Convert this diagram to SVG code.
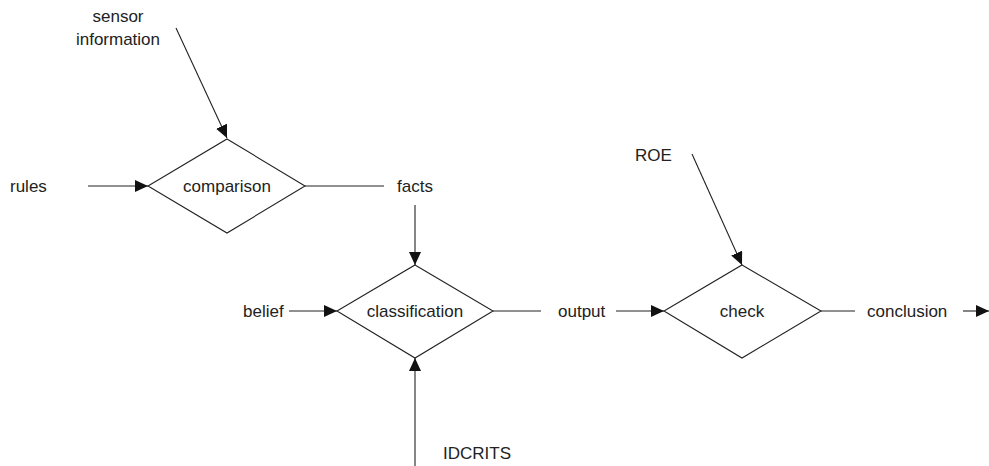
<svg xmlns="http://www.w3.org/2000/svg" width="989" height="466" viewBox="0 0 989 466">
  <style>
    .node polygon { fill: #fff; stroke: #222; stroke-width: 1.1; }
    text { font-family: "Liberation Sans", Arial, sans-serif; font-size: 17px; fill: #222; }
    .mid { text-anchor: middle; }
    #connectors line { stroke: #222; stroke-width: 1.1; fill: none; }
  </style>
  <defs>
    <marker id="arrow" markerUnits="userSpaceOnUse" markerWidth="14" markerHeight="12" refX="13" refY="6" orient="auto">
      <path d="M0,0 L13,6 L0,12 Z" fill="#111"/>
    </marker>
  </defs>

  <rect width="989" height="466" fill="#fff"/>

  <g id="connectors">
    <line x1="176" y1="28" x2="227" y2="138" marker-end="url(#arrow)"/>
    <line x1="88" y1="186" x2="148" y2="186" marker-end="url(#arrow)"/>
    <line x1="305" y1="186" x2="384" y2="186"/>
    <line x1="415" y1="205" x2="415" y2="265" marker-end="url(#arrow)"/>
    <line x1="289" y1="311" x2="337" y2="311" marker-end="url(#arrow)"/>
    <line x1="415" y1="466" x2="415" y2="358" marker-end="url(#arrow)"/>
    <line x1="493" y1="311" x2="541" y2="311"/>
    <line x1="616" y1="311" x2="664" y2="311" marker-end="url(#arrow)"/>
    <line x1="692" y1="154" x2="742" y2="265" marker-end="url(#arrow)"/>
    <line x1="821" y1="311" x2="855" y2="311"/>
    <line x1="963" y1="311" x2="989" y2="311" marker-end="url(#arrow)"/>
  </g>

  <g id="comparison" class="node">
    <polygon points="227,139 305,186 227,233 148,186"/>
    <text x="227" y="192" class="mid">comparison</text>
  </g>
  <g id="classification" class="node">
    <polygon points="415,265 493,311 415,358 337,311"/>
    <text x="415" y="317" class="mid">classification</text>
  </g>
  <g id="check" class="node">
    <polygon points="742,265 821,311 742,358 664,311"/>
    <text x="742" y="317" class="mid">check</text>
  </g>

  <g id="labels">
    <text x="118" y="22" class="mid">sensor</text>
    <text x="118" y="45" class="mid">information</text>
    <text x="10" y="192">rules</text>
    <text x="397" y="192">facts</text>
    <text x="243" y="317">belief</text>
    <text x="443" y="459">IDCRITS</text>
    <text x="558" y="317">output</text>
    <text x="635" y="161">ROE</text>
    <text x="867" y="317">conclusion</text>
  </g>
</svg>
